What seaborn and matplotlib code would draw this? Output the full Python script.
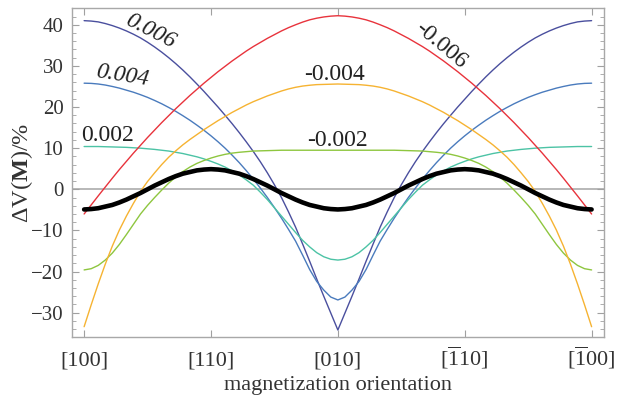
import numpy as np
import pandas as pd
import matplotlib
matplotlib.use("Agg")
import matplotlib.pyplot as plt
import seaborn as sns
from matplotlib.ticker import MultipleLocator, FixedLocator

# ---- data (angle in degrees from [100]) ----
angle = [0, 2.5, 5, 7.5, 10, 12.5, 15, 17.5, 20, 22.5, 25, 27.5, 30, 32.5, 35, 37.5, 40, 42.5, 45,
         47.5, 50, 52.5, 55, 57.5, 60, 62.5, 65, 67.5, 70, 72.5, 75, 77.5, 80, 82.5, 85, 87.5, 90,
         92.5, 95, 97.5, 100, 102.5, 105, 107.5, 110, 112.5, 115, 117.5, 120, 122.5, 125, 127.5, 130,
         132.5, 135, 137.5, 140, 142.5, 145, 147.5, 150, 152.5, 155, 157.5, 160, 162.5, 165, 167.5,
         170, 172.5, 175, 177.5, 180]

dv_p006 = [41.0, 40.9, 40.7, 40.3, 39.8, 39.2, 38.5, 37.7, 36.8, 35.75, 34.6, 33.35, 32.0, 30.55, 29.0,
           27.35, 25.6, 23.8, 21.9, 20.0, 18.0, 15.95, 13.8, 11.55, 9.2, 6.7, 4.0, 1.1, -2.0, -5.5, -9.2,
           -13.3, -17.5, -21.8, -26.0, -30.1, -34.2,
           -30.1, -26.0, -21.8, -17.5, -13.3, -9.2, -5.5, -2.0, 1.1, 4.0, 6.7, 9.2, 11.55, 13.8, 15.95,
           18.0, 20.0, 21.9, 23.8, 25.6, 27.35, 29.0, 30.55, 32.0, 33.35, 34.6, 35.75, 36.8, 37.7, 38.5,
           39.2, 39.8, 40.3, 40.7, 40.9, 41.0]
dv_p004 = [25.8, 25.75, 25.6, 25.35, 25.0, 24.6, 24.1, 23.6, 23.0, 22.35, 21.6, 20.8, 19.9, 18.95, 17.9,
           16.8, 15.6, 14.35, 13.0, 11.55, 10.0, 8.3, 6.5, 4.55, 2.5, 0.3, -2.0, -4.45, -7.0, -9.75,
           -12.6, -16.0, -19.5, -22.4, -24.5, -26.2, -26.9,
           -26.2, -24.5, -22.4, -19.5, -16.0, -12.6, -9.75, -7.0, -4.45, -2.0, 0.3, 2.5, 4.55, 6.5, 8.3,
           10.0, 11.55, 13.0, 14.35, 15.6, 16.8, 17.9, 18.95, 19.9, 20.8, 21.6, 22.35, 23.0, 23.6, 24.1,
           24.6, 25.0, 25.35, 25.6, 25.75, 25.8]
dv_p002 = [10.4, 10.4, 10.4, 10.35, 10.3, 10.25, 10.2, 10.1, 10.0, 9.85, 9.7, 9.5, 9.3, 9.0, 8.7, 8.3,
           7.9, 7.4, 6.8, 6.15, 5.4, 4.5, 3.5, 2.3, 1.0, -0.7, -2.5, -4.5, -6.5, -8.5, -10.5, -12.4,
           -14.0, -15.4, -16.4, -17.0, -17.2,
           -17.0, -16.4, -15.4, -14.0, -12.4, -10.5, -8.5, -6.5, -4.5, -2.5, -0.7, 1.0, 2.3, 3.5, 4.5,
           5.4, 6.15, 6.8, 7.4, 7.9, 8.3, 8.7, 9.0, 9.3, 9.5, 9.7, 9.85, 10.0, 10.1, 10.2, 10.25, 10.3,
           10.35, 10.4, 10.4, 10.4]
dv_m002 = [-19.6, -19.3, -18.5, -17.2, -15.5, -13.4, -11.0, -8.5, -6.0, -3.9, -2.0, -0.2, 1.5, 3.0,
           4.3, 5.4, 6.3, 7.0, 7.6, 8.1, 8.5, 8.8, 9.0, 9.15, 9.3, 9.35, 9.4, 9.45, 9.5, 9.5, 9.5, 9.5,
           9.5, 9.5, 9.5, 9.5, 9.5,
           9.5, 9.5, 9.5, 9.5, 9.5, 9.5, 9.5, 9.5, 9.45, 9.4, 9.35, 9.3, 9.15, 9.0, 8.8, 8.5, 8.1, 7.6,
           7.0, 6.3, 5.4, 4.3, 3.0, 1.5, -0.2, -2.0, -3.9, -6.0, -8.5, -11.0, -13.4, -15.5, -17.2,
           -18.5, -19.3, -19.6]
dv_m004 = [-33.4, -28.1, -23.0, -18.2, -13.8, -9.9, -6.5, -3.4, -0.5, 1.9, 4.0, 6.0, 7.8, 9.35, 10.8,
           12.1, 13.3, 14.5, 15.6, 16.7, 17.7, 18.7, 19.6, 20.5, 21.3, 22.0, 22.7, 23.3, 23.9, 24.4,
           24.8, 25.1, 25.3, 25.45, 25.5, 25.55, 25.6,
           25.55, 25.5, 25.45, 25.3, 25.1, 24.8, 24.4, 23.9, 23.3, 22.7, 22.0, 21.3, 20.5, 19.6, 18.7,
           17.7, 16.7, 15.6, 14.5, 13.3, 12.1, 10.8, 9.35, 7.8, 6.0, 4.0, 1.9, -0.5, -3.4, -6.5, -9.9,
           -13.8, -18.2, -23.0, -28.1, -33.4]
dv_m006 = [-6.0, -3.8, -1.6, 0.55, 2.7, 4.8, 6.8, 8.8, 10.7, 12.6, 14.4, 16.2, 17.9, 19.6, 21.2, 22.8,
           24.3, 25.8, 27.2, 28.6, 29.9, 31.2, 32.4, 33.6, 34.7, 35.7, 36.7, 37.6, 38.5, 39.3, 40.0,
           40.65, 41.2, 41.6, 41.9, 42.1, 42.2,
           42.1, 41.9, 41.6, 41.2, 40.65, 40.0, 39.3, 38.5, 37.6, 36.7, 35.7, 34.7, 33.6, 32.4, 31.2,
           29.9, 28.6, 27.2, 25.8, 24.3, 22.8, 21.2, 19.6, 17.9, 16.2, 14.4, 12.6, 10.7, 8.8, 6.8, 4.8,
           2.7, 0.55, -1.6, -3.8, -6.0]
dv_total = [-4.9, -4.8, -4.6, -4.2, -3.8, -3.2, -2.5, -1.7, -0.9, 0.0, 0.9, 1.7, 2.5, 3.2, 3.8, 4.2,
            4.6, 4.8, 4.9, 4.8, 4.6, 4.2, 3.8, 3.2, 2.5, 1.7, 0.9, 0.0, -0.9, -1.7, -2.5, -3.2, -3.8,
            -4.2, -4.6, -4.8, -4.9,
            -4.8, -4.6, -4.2, -3.8, -3.2, -2.5, -1.7, -0.9, 0.0, 0.9, 1.7, 2.5, 3.2, 3.8, 4.2, 4.6,
            4.8, 4.9, 4.8, 4.6, 4.2, 3.8, 3.2, 2.5, 1.7, 0.9, 0.0, -0.9, -1.7, -2.5, -3.2, -3.8, -4.2,
            -4.6, -4.8, -4.9]

strains = ["0.006", "0.004", "0.002", "-0.002", "-0.004", "-0.006"]
series = [dv_p006, dv_p004, dv_p002, dv_m002, dv_m004, dv_m006]
colors = ["#4a4f9e", "#4a7bbd", "#4cc3a5", "#8ec63f", "#f6b332", "#e8333c"]

x_tick_pos = [0, 45, 90, 135, 180]
x_tick_labels = ["[100]", "[110]", "[010]", r"[$\mathrm{\overline{1}}$10]", r"[$\mathrm{\overline{1}}$00]"]
y_ticks = [-30, -20, -10, 0, 10, 20, 30, 40]

# label positions (angle, value, rotation, italic)
label_pos = {
    "0.006": (23.4, 38.4, -27, True),
    "0.004": (13.5, 27.6, -9, True),
    "0.002": (8.2, 13.0, 0, False),
    "-0.002": (89.7, 11.8, 0, False),
    "-0.004": (88.9, 28.0, 0, False),
    "-0.006": (126.5, 34.9, -40, False),
}

for s in series + [dv_total]:
    assert len(s) == len(angle)

df = pd.DataFrame({
    "angle": np.tile(angle, len(strains)),
    "dv": np.concatenate(series),
    "strain": np.repeat(strains, len(angle)),
})

sns.set_theme(style="white")
plt.rcParams["font.family"] = ["Liberation Serif", "DejaVu Serif"]
plt.rcParams["mathtext.fontset"] = "custom"
plt.rcParams["mathtext.rm"] = "Liberation Serif"
plt.rcParams["mathtext.it"] = "Liberation Serif:italic"
plt.rcParams["mathtext.bf"] = "Liberation Serif:bold"

fig = plt.figure(figsize=(6.28, 3.96), dpi=100)
ax = fig.add_axes([0.1142, 0.148, 0.8476, 0.831])

ax.axhline(0, color="#b8b8b8", lw=1.4, zorder=0)
sns.lineplot(data=df, x="angle", y="dv", hue="strain", hue_order=strains,
             palette=dict(zip(strains, colors)), lw=1.0, legend=False,
             estimator=None, sort=False, ax=ax)
sns.lineplot(x=angle, y=dv_total, color="black", lw=3.3, estimator=None,
             sort=False, ax=ax)

for s in strains:
    a, v, rot, it = label_pos[s]
    ax.text(a, v, s, fontsize=17, color="#222222", ha="center", va="center",
            rotation=rot, style="italic" if it else "normal",
            rotation_mode="anchor")

ax.set_xlim(-4.4, 184.4)
ax.set_ylim(-36.0, 44.0)
ax.xaxis.set_major_locator(FixedLocator(x_tick_pos))
ax.set_xticklabels(x_tick_labels)
ax.yaxis.set_major_locator(FixedLocator(y_ticks))
ax.yaxis.set_minor_locator(MultipleLocator(2))
ax.tick_params(axis="both", which="both", direction="in", bottom=True, left=True,
               top=True, right=True, color="#a0a0a0", labelcolor="#333333")
ax.tick_params(axis="both", which="major", length=5, width=0.8)
ax.tick_params(axis="y", which="minor", length=3, width=0.6)
ax.tick_params(axis="y", which="major", labelsize=15, pad=6)
ax.tick_params(axis="x", which="major", labelsize=16, pad=20.5)
plt.setp(ax.get_xticklabels(), va="baseline")

for sp in ax.spines.values():
    sp.set_color("#a8a8a8")
    sp.set_linewidth(1.0)

ax.set_xlabel("magnetization orientation", fontsize=16, color="#333333", labelpad=3)
ax.set_ylabel(r"ΔV($\mathbf{M}$)/%", fontsize=17.5, color="#333333")
ax.yaxis.set_label_coords(-0.069, 0.5)

fig.savefig("out.png", dpi=100)
